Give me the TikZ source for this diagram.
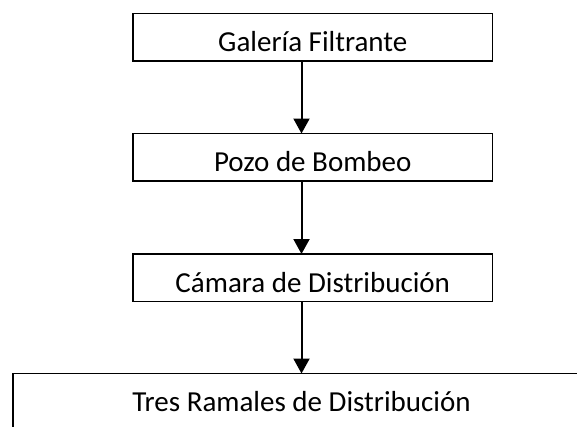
\documentclass[tikz,border=0pt]{standalone}
\usepackage{fontspec}
\setmainfont{Carlito}
\usetikzlibrary{arrows.meta}

\tikzset{
  boxnode/.style={draw,line width=1.8pt,minimum width=359.5pt,inner xsep=0pt,inner ysep=0pt,outer sep=0pt,
    text height=38pt,text depth=9.5pt,anchor=north,font=\fontsize{29}{35}\selectfont},
  flow/.style={line width=2pt,-{Triangle[width=16pt,length=15pt]}}
}

\begin{document}
\begin{tikzpicture}[x=1pt,y=-1pt]
        \useasboundingbox (0,0) rectangle (577,426);
        \clip (0,0) rectangle (577,426);

        \coordinate (p1) at (312.75,13.5);
        \coordinate (p2) at (312.75,133.5);
        \coordinate (p3) at (312.75,254);
        \coordinate (p4) at (301.5,373.5);

        \node[boxnode] (galeria) at (p1) {Galería Filtrante};
        \node[boxnode] (pozo) at (p2) {Pozo de Bombeo};
        \node[boxnode] (camara) at (p3) {Cámara de Distribución};
        \node[boxnode,minimum width=577pt,text depth=30pt] (ramales) at (p4) {Tres Ramales de Distribución};

        \draw[flow] ([xshift=-11.25pt]galeria.south) -- ([xshift=-11.25pt]pozo.north);
        \draw[flow] ([xshift=-11.25pt]pozo.south) -- ([xshift=-11.25pt]camara.north);
        \draw[flow] ([xshift=-11.25pt]camara.south) -- (ramales.north);
\end{tikzpicture}
\end{document}
